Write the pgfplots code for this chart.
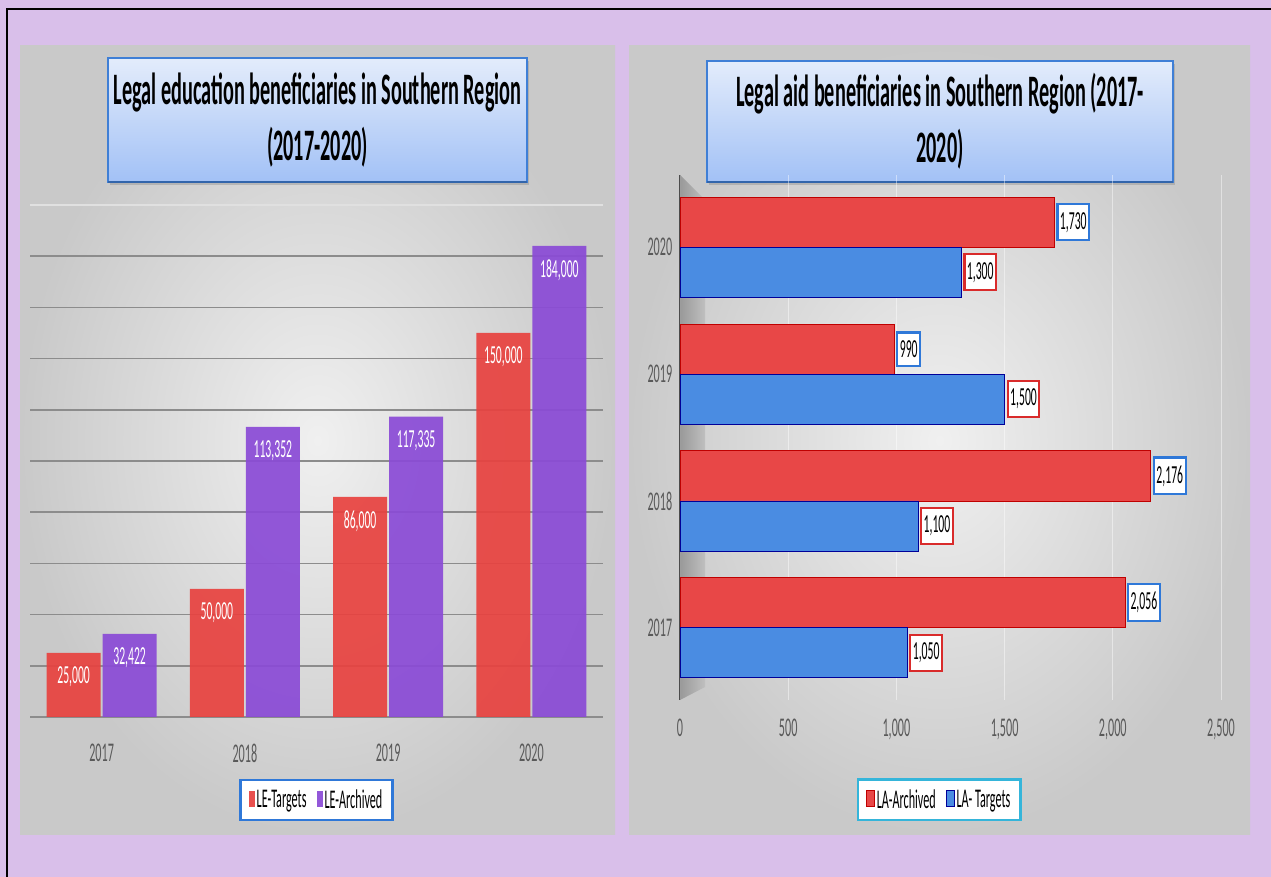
\documentclass[border=0pt]{standalone}
\usepackage{fontspec}
\setmainfont{Carlito}[FakeStretch=0.45]
\usepackage{pgfplots}
\pgfplotsset{compat=1.18}
\usetikzlibrary{shadows}
\definecolor{lav}{HTML}{D9BFEA}
\definecolor{leRed}{HTML}{E8423F}
\definecolor{lePurple}{HTML}{8A4AD6}
\definecolor{laRed}{HTML}{E84747}
\definecolor{laBlue}{HTML}{4A8CE2}
\definecolor{tickgray}{HTML}{595959}
\definecolor{boxblue}{HTML}{2F78D8}
\definecolor{boxred}{HTML}{D92B2B}
\definecolor{legcyan}{HTML}{35B5DA}
\definecolor{titleTop}{HTML}{E3ECFB}
\definecolor{titleBot}{HTML}{A2C1F6}
\definecolor{titleEdge}{HTML}{3F7FD6}
\definecolor{panelIn}{HTML}{F0F0F0}
\definecolor{panelOut}{HTML}{C9C9C9}

\begin{document}
\begin{tikzpicture}
\begin{scope}[x=1pt,y=1pt]
\path[use as bounding box] (0,0) rectangle (1271,877);
\fill[lav] (0,0) rectangle (1271,877);
\draw[black, line width=2.5pt] (7,0) -- (7,868) -- (1271,868);
% panels
\shade[inner color=panelIn, outer color=panelOut] (20,42) rectangle (615,831);
\shade[inner color=panelIn, outer color=panelOut] (629,42) rectangle (1250,831);
% title boxes
\shade[top color=titleTop, bottom color=titleBot, draw=titleEdge, line width=1.2pt,
  drop shadow={shadow xshift=1.5pt, shadow yshift=-3pt, opacity=0.35}] (108,695) rectangle (527,819);
\draw[titleEdge!80!black, line width=2.5pt] (108,695) -- (527,695);
\node[align=center, font=\bfseries\fontsize{45}{56}\selectfont] at (317.5,757)
  {Legal education beneficiaries in Southern Region\\(2017-2020)};
\shade[top color=titleTop, bottom color=titleBot, draw=titleEdge, line width=1.2pt,
  drop shadow={shadow xshift=1.5pt, shadow yshift=-3pt, opacity=0.35}] (707,695) rectangle (1173,816);
\draw[titleEdge!80!black, line width=2.5pt] (707,695) -- (1173,695);
\node[align=center, font=\bfseries\fontsize{45}{56}\selectfont] at (940,755.5)
  {Legal aid beneficiaries in Southern Region (2017-\\2020)};
% 3D wall of right chart
\shade[left color=gray!80, right color=gray!50] (680,702) -- (705,677) -- (705,190) -- (680,177) -- cycle;
\draw[black!70, line width=2pt] (680,177) -- (680,702);
\end{scope}

% ---------- left chart ----------
\begin{axis}[
  at={(30pt,160pt)}, anchor=south west,
  scale only axis, width=573pt, height=512pt,
  ybar, bar width=54pt,
  xmin=-0.5, xmax=3.5, ymin=0, ymax=200000,
  scaled ticks=false,
  xtick={0,1,2,3}, xticklabels={2017,2018,2019,2020},
  ytick={20000,40000,...,180000}, yticklabels={},
  minor ytick={200000},
  extra y ticks={0}, extra y tick labels={},
  extra y tick style={grid style={draw=black!75, line width=3pt}},
  ymajorgrids, yminorgrids,
  major grid style={draw=black!45, line width=1.6pt},
  minor grid style={draw=black!12, line width=1.2pt},
  axis line style={draw=none}, tick style={draw=none},
  xticklabel style={font=\fontsize{27}{27}\selectfont, text=tickgray, yshift=-19pt},
  /pgf/number format/assume math mode=true,
  /pgf/number format/fixed, /pgf/number format/precision=0,
  /pgf/number format/1000 sep={,},
  nodes near coords,
  nodes near coords style={anchor=north, text=white, font=\fontsize{26}{26}\selectfont, yshift=-10pt},
  legend style={at={(0.5,-0.162)}, anchor=center, legend columns=2, draw=boxblue,
    line width=2.5pt, fill=white, font=\fontsize{27}{27}\selectfont, inner xsep=8pt, inner ysep=8pt,
    /tikz/every even column/.append style={column sep=8pt}},
  legend image code/.code={\fill[#1] (0pt,-7pt) rectangle (6pt,9pt);},
]
\addplot[fill=leRed, draw=none, fill opacity=0.92, text opacity=1] coordinates {(0,25000) (1,50000) (2,86000) (3,150000)};
\addplot[fill=lePurple, draw=none, fill opacity=0.92, text opacity=1] coordinates {(0,32422) (1,113352) (2,117335) (3,184000)};
\legend{LE-Targets, LE-Archived}
\end{axis}

% ---------- right chart ----------
\begin{axis}[
  at={(680pt,177pt)}, anchor=south west,
  scale only axis, width=541pt, height=525pt,
  xbar, bar width=50pt,
  xmin=0, xmax=2500, ymin=-0.57, ymax=3.57,
  scaled ticks=false,
  ytick={0,1,2,3}, yticklabels={2017,2018,2019,2020},
  xtick={0,500,...,2500},
  xmajorgrids, major grid style={draw=white, opacity=0.45, line width=1pt},
  axis line style={draw=none}, tick style={draw=none},
  xticklabel style={font=\fontsize{27}{27}\selectfont, text=tickgray, yshift=-15pt},
  yticklabel style={font=\fontsize{27}{27}\selectfont, text=tickgray},
  /pgf/number format/assume math mode=true,
  /pgf/number format/fixed, /pgf/number format/precision=0,
  /pgf/number format/1000 sep={,},
  legend style={at={(0.479,-0.19)}, anchor=center, legend columns=2, draw=legcyan,
    line width=2.5pt, fill=white, font=\fontsize{27}{27}\selectfont, inner xsep=8pt, inner ysep=8pt,
    /tikz/every even column/.append style={column sep=8pt}},
  legend image code/.code={\fill[#1] (0pt,-7pt) rectangle (8pt,9pt);},
]
\addplot[fill=laRed, draw=red!75!black, line width=0.8pt, bar shift=25pt,
  nodes near coords,
  nodes near coords style={anchor=west, fill=white, draw=boxblue, line width=2.2pt, text=black,
    font=\fontsize{26}{26}\selectfont, inner xsep=2.5pt, inner ysep=8pt, xshift=2pt}]
  coordinates {(2056,0) (2176,1) (990,2) (1730,3)};
\addplot[fill=laBlue, draw=blue!60!black, line width=0.8pt, bar shift=-25pt,
  nodes near coords,
  nodes near coords style={anchor=west, fill=white, draw=boxred, line width=2.2pt, text=black,
    font=\fontsize{26}{26}\selectfont, inner xsep=2.5pt, inner ysep=8pt, xshift=2pt}]
  coordinates {(1050,0) (1100,1) (1500,2) (1300,3)};
\legend{LA-Archived, LA- Targets}
\end{axis}
\end{tikzpicture}
\end{document}
